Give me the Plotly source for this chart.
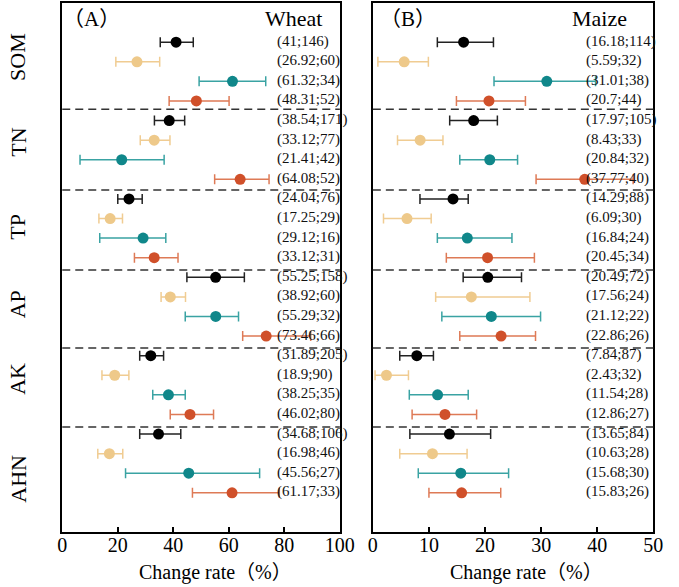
import plotly.graph_objects as go

nutrients = ["SOM", "TN", "TP", "AP", "AK", "AHN"]

# ---- Wheat (panel A) ----
wheat_mean = [
    [41, 38.54, 24.04, 55.25, 31.89, 34.68],
    [26.92, 33.12, 17.25, 38.92, 18.9, 16.98],
    [61.32, 21.41, 29.12, 55.29, 38.25, 45.56],
    [48.31, 64.08, 33.12, 73.46, 46.02, 61.17],
]
wheat_n = [
    [146, 171, 76, 158, 205, 106],
    [60, 77, 29, 60, 90, 46],
    [34, 42, 16, 32, 35, 27],
    [52, 52, 31, 66, 80, 33],
]
wheat_lo = [
    [35.3, 33.2, 20.0, 44.9, 27.9, 27.9],
    [19.3, 28.1, 13.2, 35.6, 14.3, 12.8],
    [49.3, 6.4, 13.5, 44.3, 32.6, 22.8],
    [38.5, 54.9, 26.0, 65.0, 38.9, 46.9],
]
wheat_hi = [
    [47.2, 44.1, 28.8, 65.6, 36.5, 42.7],
    [35.1, 38.8, 21.7, 44.4, 24.0, 21.8],
    [73.3, 36.7, 37.3, 63.5, 44.3, 71.1],
    [60.1, 74.5, 41.7, 89.5, 54.5, 78.2],
]

# ---- Maize (panel B) ----
maize_mean = [
    [16.18, 17.97, 14.29, 20.49, 7.84, 13.65],
    [5.59, 8.43, 6.09, 17.56, 2.43, 10.63],
    [31.01, 20.84, 16.84, 21.12, 11.54, 15.68],
    [20.7, 37.77, 20.45, 22.86, 12.86, 15.83],
]
maize_n = [
    [114, 105, 88, 72, 87, 84],
    [32, 33, 30, 24, 32, 28],
    [38, 32, 24, 22, 28, 30],
    [44, 40, 34, 26, 27, 26],
]
maize_lo = [
    [11.5, 13.7, 8.4, 16.1, 4.8, 6.6],
    [0.9, 4.4, 1.9, 11.2, 0.4, 4.8],
    [21.6, 15.5, 11.5, 12.3, 6.5, 8.1],
    [14.9, 29.1, 13.1, 15.5, 7.0, 10.0],
]
maize_hi = [
    [21.5, 22.2, 17.0, 26.5, 10.8, 21.0],
    [9.9, 12.5, 10.4, 28.0, 6.35, 16.8],
    [39.7, 25.8, 24.8, 29.9, 17.0, 24.2],
    [27.2, 46.4, 28.8, 29.0, 18.5, 22.8],
]

marker_colors = ["#000000", "#EEC98A", "#10878A", "#D0502A"]
bar_colors = ["#222222", "#F0CC92", "#3AA3A3", "#DE7A56"]

FONT = "Liberation Serif, Times New Roman, Noto Sans CJK SC, serif"

fig = go.Figure()

def add_panel(means, lo, hi, xa, ya):
    for g in range(4):
        ys = [4 * i + g for i in range(len(nutrients))]
        m = means[g]
        fig.add_trace(go.Scatter(
            x=m, y=ys, mode="markers", xaxis=xa, yaxis=ya,
            marker=dict(color=marker_colors[g], size=11),
            error_x=dict(type="data", symmetric=False,
                         array=[h - v for h, v in zip(hi[g], m)],
                         arrayminus=[v - l for v, l in zip(m, lo[g])],
                         color=bar_colors[g], thickness=1.5, width=5),
            showlegend=False, hoverinfo="skip"))

add_panel(wheat_mean, wheat_lo, wheat_hi, "x", "y")
add_panel(maize_mean, maize_lo, maize_hi, "x2", "y2")

annotations = []
def add_texts(means, ns, xref, yref, xpos):
    for g in range(4):
        for i in range(len(nutrients)):
            annotations.append(dict(
                x=xpos, y=4 * i + g, xref=xref, yref=yref,
                text=f"({means[g][i]:g};{ns[g][i]})", showarrow=False,
                xanchor="left", yanchor="middle", yshift=1,
                font=dict(family=FONT, size=15, color="#111")))

add_texts(wheat_mean, wheat_n, "x", "y", 76.5)
add_texts(maize_mean, maize_n, "x2", "y2", 37.7)

W, H = 679, 587
def px(x): return x / W
def py(y): return 1 - y / H

# group labels
label_rows = [0.77, 5.1, 9.44, 13.4, 17.2, 22.3]
for name, r in zip(nutrients, label_rows):
    annotations.append(dict(x=px(13), y=r, xref="paper", yref="y", text=name,
                            textangle=-90, showarrow=False, xanchor="center",
                            yanchor="middle",
                            font=dict(family=FONT, size=22, color="#000")))

annotations += [
    dict(x=px(89), y=py(19), xref="paper", yref="paper", text="（A）",
         showarrow=False, xanchor="center", yanchor="middle",
         font=dict(family=FONT, size=21, color="#000")),
    dict(x=px(329), y=py(18), xref="paper", yref="paper", text="Wheat",
         showarrow=False, xanchor="right", yanchor="middle",
         font=dict(family=FONT, size=22, color="#000")),
    dict(x=px(415), y=py(19), xref="paper", yref="paper", text="（B）",
         showarrow=False, xanchor="center", yanchor="middle",
         font=dict(family=FONT, size=21, color="#000")),
    dict(x=px(643), y=py(18), xref="paper", yref="paper", text="Maize",
         showarrow=False, xanchor="right", yanchor="middle",
         font=dict(family=FONT, size=22, color="#000")),
    dict(x=px(217), y=py(572), xref="paper", yref="paper", text="Change rate（%）",
         showarrow=False, xanchor="center", yanchor="middle",
         font=dict(family=FONT, size=20, color="#000")),
    dict(x=px(537), y=py(572), xref="paper", yref="paper", text="Change rate（%）",
         showarrow=False, xanchor="center", yanchor="middle",
         font=dict(family=FONT, size=20, color="#000")),
]

separators = [3.42, 7.55, 11.63, 15.61, 19.64]
shapes = []
for yref, xref in [("y", "x domain"), ("y2", "x2 domain")]:
    for s in separators:
        shapes.append(dict(type="line", xref=xref, yref=yref, x0=0, x1=1,
                           y0=s, y1=s,
                           line=dict(color="#333", width=1.5, dash="8px,5px")))

axis_common = dict(showline=True, linewidth=2, linecolor="#000", mirror=True,
                   showgrid=False, zeroline=False)

fig.update_layout(
    width=W, height=H, margin=dict(l=0, r=0, t=0, b=0),
    paper_bgcolor="white", plot_bgcolor="white",
    xaxis=dict(domain=[px(59), px(345)], range=[0, 100], dtick=20,
               ticks="inside", ticklen=5, tickwidth=1.5, tickcolor="#000",
               ticklabelstandoff=-6,
               tickfont=dict(family=FONT, size=20, color="#000"), **axis_common),
    yaxis=dict(domain=[py(532), py(3)], range=[25, -2], showticklabels=False,
               ticks="", **axis_common),
    xaxis2=dict(domain=[px(379), px(668)], range=[0, 50], dtick=10, anchor="y2",
                ticks="inside", ticklen=5, tickwidth=1.5, tickcolor="#000",
                ticklabelstandoff=-6,
                tickfont=dict(family=FONT, size=20, color="#000"), **axis_common),
    yaxis2=dict(domain=[py(532), py(3)], range=[25, -2], showticklabels=False,
                ticks="", anchor="x2", **axis_common),
    annotations=annotations, shapes=shapes,
)

fig.write_html("out.html")
